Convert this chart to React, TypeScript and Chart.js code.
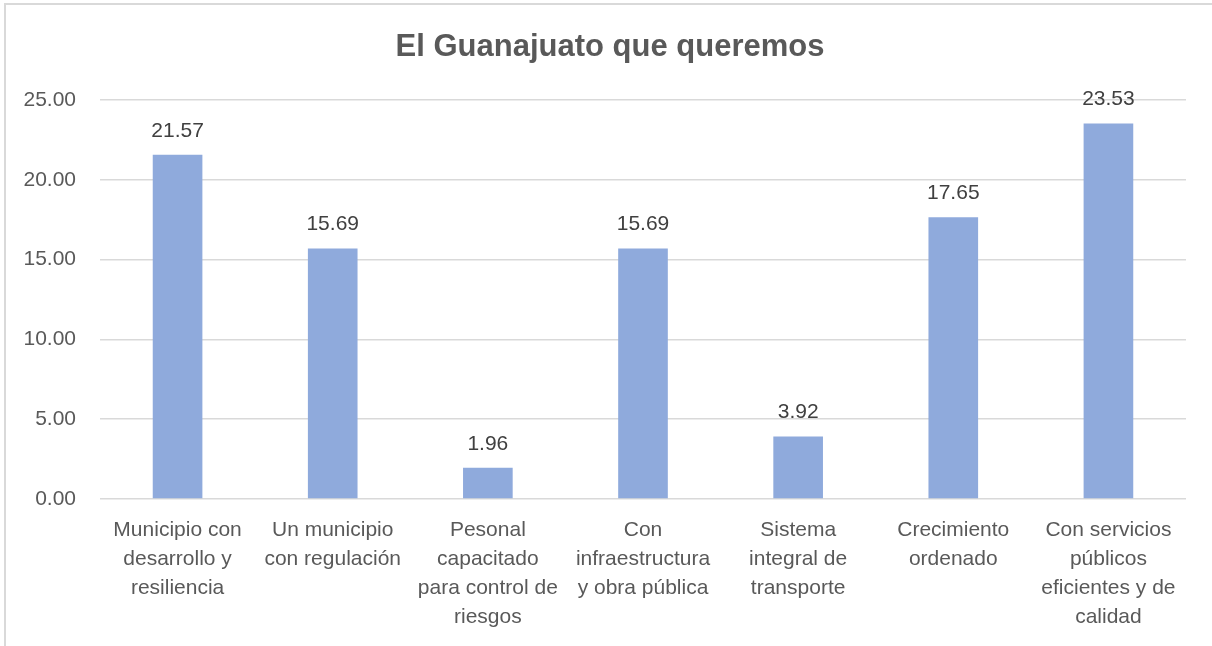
import React, { useEffect, useRef } from "react";
import { Chart, registerables } from "chart.js";

Chart.register(...registerables);

const title = "El Guanajuato que queremos";
const categories: string[][] = [
  ["Municipio con", "desarrollo y", "resiliencia"],
  ["Un municipio", "con regulación"],
  ["Pesonal", "capacitado", "para control de", "riesgos"],
  ["Con", "infraestructura", "y obra pública"],
  ["Sistema", "integral de", "transporte"],
  ["Crecimiento", "ordenado"],
  ["Con servicios", "públicos", "eficientes y de", "calidad"],
];
const values: number[] = [21.57, 15.69, 1.96, 15.69, 3.92, 17.65, 23.53];
const yMin = 0;
const yMax = 25;
const yStep = 5;

const FONT = "'Liberation Sans', Arial, sans-serif";

const dataLabelPlugin = {
  id: "dataLabels",
  afterDatasetsDraw(chart: any) {
    const ctx = chart.ctx;
    const meta = chart.getDatasetMeta(0);
    ctx.save();
    ctx.font = `21px ${FONT}`;
    ctx.fillStyle = "#404040";
    ctx.textAlign = "center";
    ctx.textBaseline = "middle";
    meta.data.forEach((bar: any, i: number) => {
      const v = chart.data.datasets[0].data[i] as number;
      ctx.fillText(v.toFixed(2), bar.x, bar.y - 24);
    });
    ctx.restore();
  },
};

const titlePlugin = {
  id: "centeredTitle",
  afterDraw(chart: any) {
    const ctx = chart.ctx;
    ctx.save();
    ctx.font = `bold 31px ${FONT}`;
    ctx.fillStyle = "#595959";
    ctx.textAlign = "center";
    ctx.textBaseline = "middle";
    ctx.fillText(title, chart.width / 2 + 4, 47);
    ctx.restore();
  },
};

export default function App() {
  const ref = useRef<HTMLCanvasElement | null>(null);
  useEffect(() => {
    if (!ref.current) return;
    const chart = new Chart(ref.current, {
      type: "bar",
      data: {
        labels: categories,
        datasets: [
          {
            data: values,
            backgroundColor: "#8faadc",
            borderWidth: 0,
            barPercentage: 0.32,
            categoryPercentage: 1,
          },
        ],
      },
      options: {
        animation: false,
        responsive: false,
        maintainAspectRatio: false,
        layout: { padding: { left: 0, right: 26, top: 100, bottom: 0 } },
        plugins: {
          legend: { display: false },
          tooltip: { enabled: false },
          title: { display: false },
        },
        scales: {
          x: {
            grid: { display: false, drawTicks: false },
            border: { display: false },
            ticks: {
              color: "#595959",
              font: { family: FONT, size: 21, lineHeight: 29 / 21 },
              padding: 17,
              maxRotation: 0,
              autoSkip: false,
            },
            afterFit: (s: any) => {
              s.height = 147;
            },
          },
          y: {
            min: yMin,
            max: yMax,
            grid: { color: "#d9d9d9", lineWidth: 1.5, drawTicks: false },
            border: { display: false },
            ticks: {
              stepSize: yStep,
              color: "#595959",
              font: { family: FONT, size: 21 },
              padding: 24,
              callback: (v: any) => Number(v).toFixed(2),
            },
            afterFit: (s: any) => {
              s.width = 100;
            },
          },
        },
      },
      plugins: [dataLabelPlugin, titlePlugin],
    });
    return () => chart.destroy();
  }, []);

  return (
    <div
      style={{
        position: "fixed",
        left: 0,
        top: 0,
        width: 1212,
        height: 646,
        overflow: "hidden",
        background: "#ffffff",
      }}
    >
      <div
        style={{
          position: "absolute",
          left: 4,
          top: 3,
          width: 1300,
          height: 800,
          border: "2px solid #d9d9d9",
          boxSizing: "border-box",
        }}
      />
      <canvas
        ref={ref}
        width={1212}
        height={646}
        style={{ position: "absolute", left: 0, top: 0, width: 1212, height: 646 }}
      />
    </div>
  );
}
